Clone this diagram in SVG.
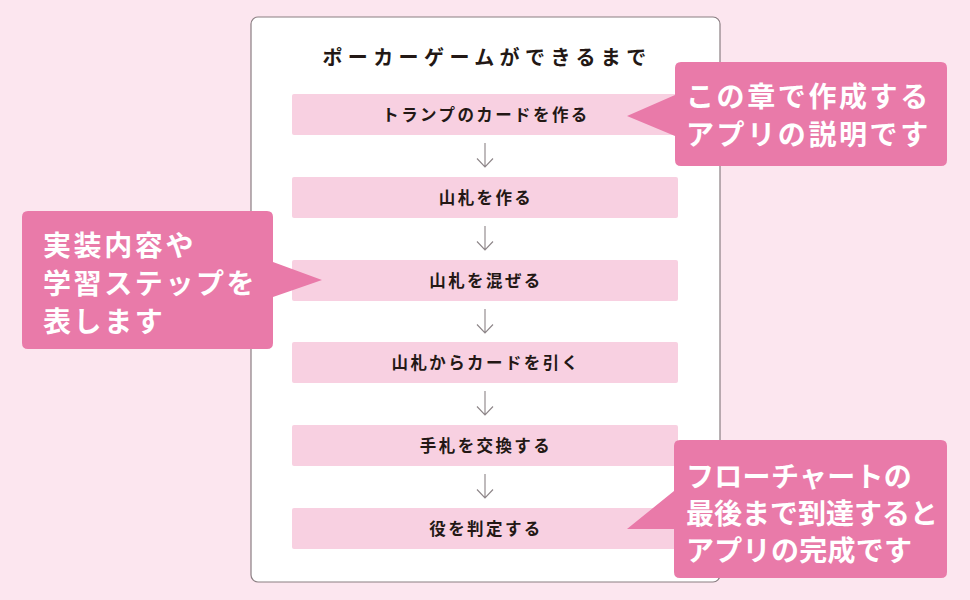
<svg xmlns="http://www.w3.org/2000/svg" width="970" height="600" viewBox="0 0 970 600">
<defs>
<style>
.step rect{fill:#f8d0e1;}
.step text{font-family:"Noto Sans CJK JP","Noto Sans",sans-serif;font-weight:700;font-size:16.5px;fill:#231815;letter-spacing:2.4px;text-anchor:middle;}
.title{font-family:"Noto Sans CJK JP","Noto Sans",sans-serif;font-weight:700;font-size:20px;fill:#231815;letter-spacing:5.4px;text-anchor:middle;}
.call path{fill:#e97aa9;}
.call text{font-family:"Noto Sans CJK JP","Noto Sans",sans-serif;font-weight:700;font-size:28px;fill:#ffffff;}
.conn path{fill:none;stroke:#8c8487;stroke-width:1.1;}
</style>
</defs>
<rect x="0" y="0" width="970" height="600" fill="#fce6ef"/>
<g id="panel">
<rect x="251" y="17" width="469" height="565" rx="7" fill="#ffffff" stroke="#8a7e82" stroke-width="1.2"/>
<text class="title" x="487" y="65">ポーカーゲームができるまで</text>
</g>
<g id="step1" class="step"><rect x="292" y="94" width="386" height="41" rx="2"/><text x="486" y="121">トランプのカードを作る</text></g>
<g id="step2" class="step"><rect x="292" y="177" width="386" height="41" rx="2"/><text x="486" y="204">山札を作る</text></g>
<g id="step3" class="step"><rect x="292" y="260" width="386" height="41" rx="2"/><text x="486" y="287">山札を混ぜる</text></g>
<g id="step4" class="step"><rect x="292" y="342" width="386" height="41" rx="2"/><text x="486" y="369">山札からカードを引く</text></g>
<g id="step5" class="step"><rect x="292" y="425" width="386" height="41" rx="2"/><text x="486" y="452">手札を交換する</text></g>
<g id="step6" class="step"><rect x="292" y="508" width="386" height="41" rx="2"/><text x="486" y="535">役を判定する</text></g>
<g id="connectors" class="conn">
<path d="M485 143V167M477 158.5L485 167L493 158.5"/>
<path d="M485 226V250M477 241.5L485 250L493 241.5"/>
<path d="M485 309V333M477 324.5L485 333L493 324.5"/>
<path d="M485 391V415M477 406.5L485 415L493 406.5"/>
<path d="M485 474V498M477 489.5L485 498L493 489.5"/>
</g>
<g id="callout1" class="call">
<path d="M681 62H941Q947 62 947 68V160Q947 166 941 166H681Q675 166 675 160V136L627 116L675 95V68Q675 62 681 62Z"/>
<text x="686" y="107" letter-spacing="2.6">この章で作成する</text>
<text x="686" y="145" letter-spacing="2.6">アプリの説明です</text>
</g>
<g id="callout2" class="call">
<path d="M28 211H267Q273 211 273 217V262L322 280L273 297V343Q273 349 267 349H28Q22 349 22 343V217Q22 211 28 211Z"/>
<text x="43" y="256" letter-spacing="2.6">実装内容や</text>
<text x="43" y="294" letter-spacing="2.6">学習ステップを</text>
<text x="43" y="332" letter-spacing="2.6">表します</text>
</g>
<g id="callout3" class="call">
<path d="M680 440H941Q947 440 947 446V572Q947 578 941 578H680Q674 578 674 572V529H627L674 491V446Q674 440 680 440Z"/>
<text x="686" y="487" letter-spacing="0.3">フローチャートの</text>
<text x="686" y="524" letter-spacing="0">最後まで到達すると</text>
<text x="686" y="561" letter-spacing="0.3">アプリの完成です</text>
</g>
</svg>
